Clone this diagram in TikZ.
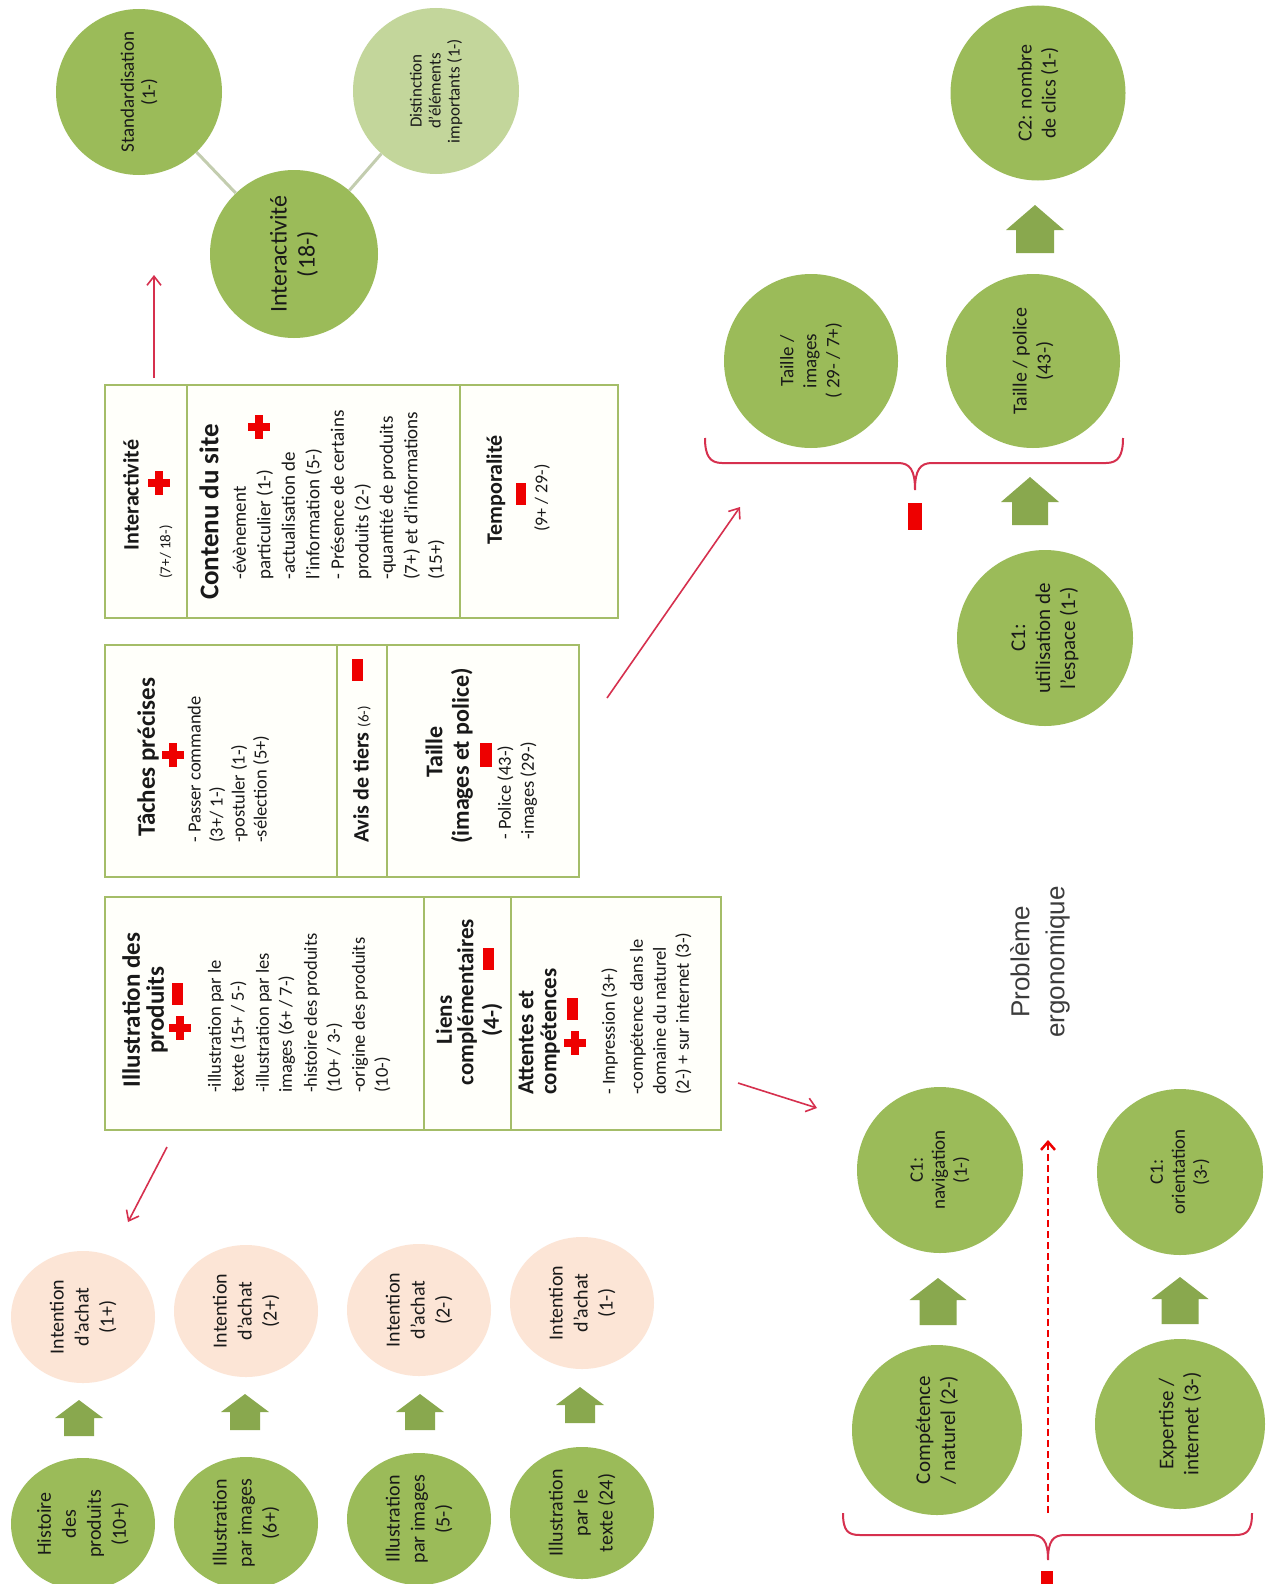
\documentclass[tikz,border=0pt]{standalone}
\usepackage{fontspec}
\setmainfont{Carlito}
\newfontfamily\arialfont{Liberation Sans}
\usetikzlibrary{arrows.meta,shapes.geometric}
\definecolor{cgreen}{RGB}{155,187,89}
\definecolor{lgreen}{RGB}{195,214,155}
\definecolor{peach}{RGB}{252,229,214}
\definecolor{agreen}{RGB}{137,168,78}
\definecolor{boxline}{RGB}{164,189,104}
\definecolor{boxfill}{RGB}{255,255,250}
\definecolor{arrred}{RGB}{214,48,78}
\definecolor{sred}{RGB}{238,0,0}
\definecolor{connect}{RGB}{195,205,175}
\definecolor{txt}{RGB}{25,25,25}
\definecolor{ptxt}{RGB}{60,60,60}
\newcommand{\blkarr}[6]{\fill[agreen] (#1,#2) -- ++(#3/2,#4) -- ++(-#3/2+#5/2,0) -- ++(0,#6-#4) -- ++(-#5,0) -- ++(0,-#6+#4) -- ++(-#3/2+#5/2,0) -- cycle;}
\newcommand{\rcross}[2]{\fill[sred] (#1-11,#2-4) rectangle (#1+11,#2+4); \fill[sred] (#1-4,#2-12) rectangle (#1+4,#2+12);}
\newcommand{\rminus}[4]{\fill[sred] (#1-#3/2,#2-#4/2) rectangle (#1+#3/2,#2+#4/2);}
\begin{document}
\begin{tikzpicture}[x=1pt,y=-1pt,
  cell/.style={draw=boxline, line width=1.8pt, fill=boxfill, anchor=north west, inner sep=0pt, outer sep=0pt},
  gc/.style={circle, fill=cgreen, inner sep=0pt, rotate=90, align=center, text=txt},
  pc/.style={ellipse, fill=peach, inner sep=0pt, rotate=90, align=center, text=txt, minimum width=132pt, minimum height=144pt, font=\fontsize{20}{25}\selectfont},
  rt/.style={rotate=90, inner sep=0pt, text=txt},
  redarr/.style={draw=arrred, line width=1.6pt, -{Straight Barb[length=9pt,width=14pt]}},
  dasharr/.style={draw=sred, line width=2.5pt, dash pattern=on 7pt off 4pt, -{Straight Barb[length=8pt,width=14pt]}},
  brace/.style={draw=arrred, line width=2pt},
  conn/.style={draw=connect, line width=3pt}]
\useasboundingbox (0,0) rectangle (1275,1584);
\clip (0,0) rectangle (1275,1584);
\fill[white] (0,0) rectangle (1275,1584);

% ---------- tables ----------
\node[cell, minimum width=82pt, minimum height=233pt] (t1a) at (105,385) {};
\node[cell, minimum width=273pt, minimum height=233pt] (t1b) at (187,385) {};
\node[cell, minimum width=158pt, minimum height=233pt] (t1c) at (460,385) {};
\node[cell, minimum width=232pt, minimum height=232pt] (t2a) at (105,645) {};
\node[cell, minimum width=50pt, minimum height=232pt] (t2b) at (337,645) {};
\node[cell, minimum width=192pt, minimum height=232pt] (t2c) at (387,645) {};
\node[cell, minimum width=319pt, minimum height=233pt] (t3a) at (105,897) {};
\node[cell, minimum width=87pt, minimum height=233pt] (t3b) at (424,897) {};
\node[cell, minimum width=210pt, minimum height=233pt] (t3c) at (511,897) {};

% table 1
\node[rt, font=\bfseries\fontsize{22}{26}\selectfont] (h1a) at (131,495) {Interactivité};
\node[rt, font=\fontsize{15}{18}\selectfont] (n1a) at (166,552) {(7+/ 18-)};
\node[rt, font=\bfseries\fontsize{27}{30}\selectfont] (h1b) at (209,512) {Contenu du site};
\node[rt, anchor=north west, align=left, font=\fontsize{19}{24.5}\selectfont] (b1b) at (228.5,580)
 {\strut-évènement\\particulier (1-)\\-actualisation de\\l'information (5-)\\- Présence de certains\\produits (2-)\\-quantité de produits\\(7+) et d’informations\\(15+)};
\node[rt, font=\bfseries\fontsize{22}{26}\selectfont] (h1c) at (496,490) {Temporalité};
\node[rt, font=\fontsize{18}{21}\selectfont] (n1c) at (542,498) {(9+ / 29-)};

% table 2
\node[rt, font=\bfseries\fontsize{25}{28}\selectfont] (h2a) at (148,757) {Tâches précises};
\node[rt, anchor=north west, align=left, font=\fontsize{18.5}{22}\selectfont] (b2a) at (185,843)
 {\strut- Passer commande\\(3+/ 1-)\\-postuler (1-)\\-sélection (5+)};
\node[rt, anchor=west, font=\bfseries\fontsize{22}{26}\selectfont] (h2b) at (362,843) {Avis de tiers {\mdseries\fontsize{15}{18}\selectfont (6-)}};
\node[rt, font=\bfseries\fontsize{24}{28}\selectfont] (h2c) at (434,752) {Taille};
\node[rt, font=\bfseries\fontsize{24}{28}\selectfont] (h2c2) at (462,756) {(images et police)};
\node[rt, anchor=north west, align=left, font=\fontsize{18.5}{23}\selectfont] (b2c) at (494.5,840)
 {\strut- Police (43-)\\-images (29-)};

% table 3
\node[rt, align=center, font=\bfseries\fontsize{25}{24}\selectfont] (h3a) at (145,1010) {Illustration des\\produits};
\node[rt, anchor=north west, align=left, font=\fontsize{18.5}{23}\selectfont] (b3a) at (204.5,1093)
 {\strut-illustration par le\\texte (15+ / 5-)\\[2pt]-illustration par les\\images (6+ / 7-)\\[2pt]-histoire des produits\\(10+ / 3-)\\[2pt]-origine des produits\\(10-)};
\node[rt, font=\bfseries\fontsize{23}{27}\selectfont] (h3b1) at (444,1020) {Liens};
\node[rt, font=\bfseries\fontsize{23}{27}\selectfont] (h3b2) at (467,1002) {complémentaires};
\node[rt, font=\bfseries\fontsize{23}{27}\selectfont] (h3b3) at (492,1020) {(4-)};
\node[rt, anchor=north west, align=left, font=\bfseries\fontsize{23}{23}\selectfont] (h3c) at (517,1095) {\strut Attentes et\\compétences};
\node[rt, anchor=north west, align=left, font=\fontsize{18.5}{23}\selectfont] (b3c) at (598.5,1095)
 {\strut- Impression (3+)\\[5pt]-compétence dans le\\domaine du naturel\\(2-) + sur internet (3-)};

% red signs
\rcross{159}{483}
\rcross{259}{427}
\rcross{173}{755}
\rcross{180}{1028}
\rcross{575}{1043}
\rminus{521}{494}{10}{22}
\rminus{357}{670}{11}{22}
\rminus{486}{755}{12}{24}
\rminus{177}{994}{11}{22}
\rminus{488}{959}{11}{22}
\rminus{572}{1009}{11}{22}
\rminus{915}{516}{14}{27}
\rminus{1047}{1582}{12}{22}

% ---------- circles ----------
\node[gc, minimum size=166pt, font=\fontsize{19}{21}\selectfont] (std) at (139,92) {Standardisation\\(1-)};
\node[gc, fill=lgreen, minimum size=166pt, font=\fontsize{17}{19}\selectfont] (dist) at (436,91) {Distinction\\d’éléments\\importants (1-)};
\node[gc, minimum size=168pt, font=\fontsize{24}{28}\selectfont] (inter) at (294,254) {Interactivité\\(18-)};
\draw[conn] (std) -- (inter);
\draw[conn] (dist) -- (inter);

\node[gc, minimum size=175pt, font=\fontsize{20}{24}\selectfont] (c2) at (1038,93) {C2: nombre\\de clics (1-)};
\node[gc, minimum size=174pt, font=\fontsize{19}{23}\selectfont] (timg) at (811,361) {Taille /\\images\\( 29- / 7+)};
\node[gc, minimum size=174pt, font=\fontsize{20}{24}\selectfont] (tpol) at (1033,361) {Taille / police\\(43-)};
\node[gc, minimum size=176pt, font=\fontsize{21}{25}\selectfont] (c1esp) at (1045,638) {C1:\\utilisation de\\l'espace (1-)};
\node[gc, minimum size=166pt, font=\fontsize{19}{22}\selectfont] (c1nav) at (940,1170) {C1:\\navigation\\(1-)};
\node[gc, minimum size=166pt, font=\fontsize{19}{22}\selectfont] (c1ori) at (1180,1172) {C1:\\orientation\\(3-)};
\node[gc, minimum size=170pt, font=\fontsize{21}{25}\selectfont] (comp) at (937,1430) {Compétence\\/ naturel (2-)};
\node[gc, minimum size=170pt, font=\fontsize{21}{25}\selectfont] (expt) at (1180,1424) {Expertise /\\internet (3-)};

\node[pc] (int1) at (83,1317) {Intention\\d’achat\\(1+)};
\node[pc] (int2) at (246,1311) {Intention\\d’achat\\(2+)};
\node[pc] (int3) at (419,1310) {Intention\\d’achat\\(2-)};
\node[pc] (int4) at (582,1303) {Intention\\d’achat\\(1-)};
\node[pc, fill=cgreen] (hist) at (83,1524) {Histoire\\des\\produits\\(10+)};
\node[pc, fill=cgreen] (ill6) at (246,1523) {Illustration\\par images\\(6+)};
\node[pc, fill=cgreen] (ill5) at (419,1519) {Illustration\\par images\\(5-)};
\node[pc, fill=cgreen] (illt) at (582,1513) {Illustration\\par le\\texte (24)};

\node[rt, align=center, text=ptxt, font=\arialfont\fontsize{26}{35}\selectfont] (prob) at (1040,962) {Problème\\ergonomique};

% ---------- block arrows ----------
\blkarr{1035}{205}{58}{25}{38}{48}
\blkarr{1030}{477}{58}{25}{36}{48}
\blkarr{938}{1278}{57}{22}{37}{47}
\blkarr{1180}{1277}{57}{22}{37}{47}
\blkarr{79}{1400}{48}{18}{30}{36}
\blkarr{245}{1394}{48}{18}{30}{36}
\blkarr{420}{1394}{48}{18}{30}{36}
\blkarr{580}{1387}{48}{18}{30}{36}

% ---------- red arrows ----------
\coordinate (a1s) at (154,378); \coordinate (a1e) at (154,275);
\coordinate (a2s) at (607,698); \coordinate (a2e) at (740,507);
\coordinate (a3s) at (738,1083); \coordinate (a3e) at (817,1108);
\coordinate (a4s) at (167,1147); \coordinate (a4e) at (128,1222);
\coordinate (d1s) at (1048,1513); \coordinate (d1e) at (1048,1140);
\draw[redarr] (a1s) -- (a1e);
\draw[redarr] (a2s) -- (a2e);
\draw[redarr] (a3s) -- (a3e);
\draw[redarr] (a4s) -- (a4e);
\draw[dasharr] (d1s) -- (d1e);

% ---------- braces ----------
\draw[brace] (705,438) .. controls (705,456) and (710,463) .. (722,463) -- (898,463) .. controls (910,463) and (915,470) .. (915,490) .. controls (915,470) and (920,463) .. (932,463) -- (1106,463) .. controls (1118,463) and (1123,456) .. (1123,438);
\draw[brace] (843,1513) .. controls (843,1531) and (848,1535) .. (860,1535) -- (1031,1535) .. controls (1043,1535) and (1048,1541) .. (1048,1560) .. controls (1048,1541) and (1053,1535) .. (1065,1535) -- (1235,1535) .. controls (1247,1535) and (1252,1531) .. (1252,1513);
\end{tikzpicture}
\end{document}
